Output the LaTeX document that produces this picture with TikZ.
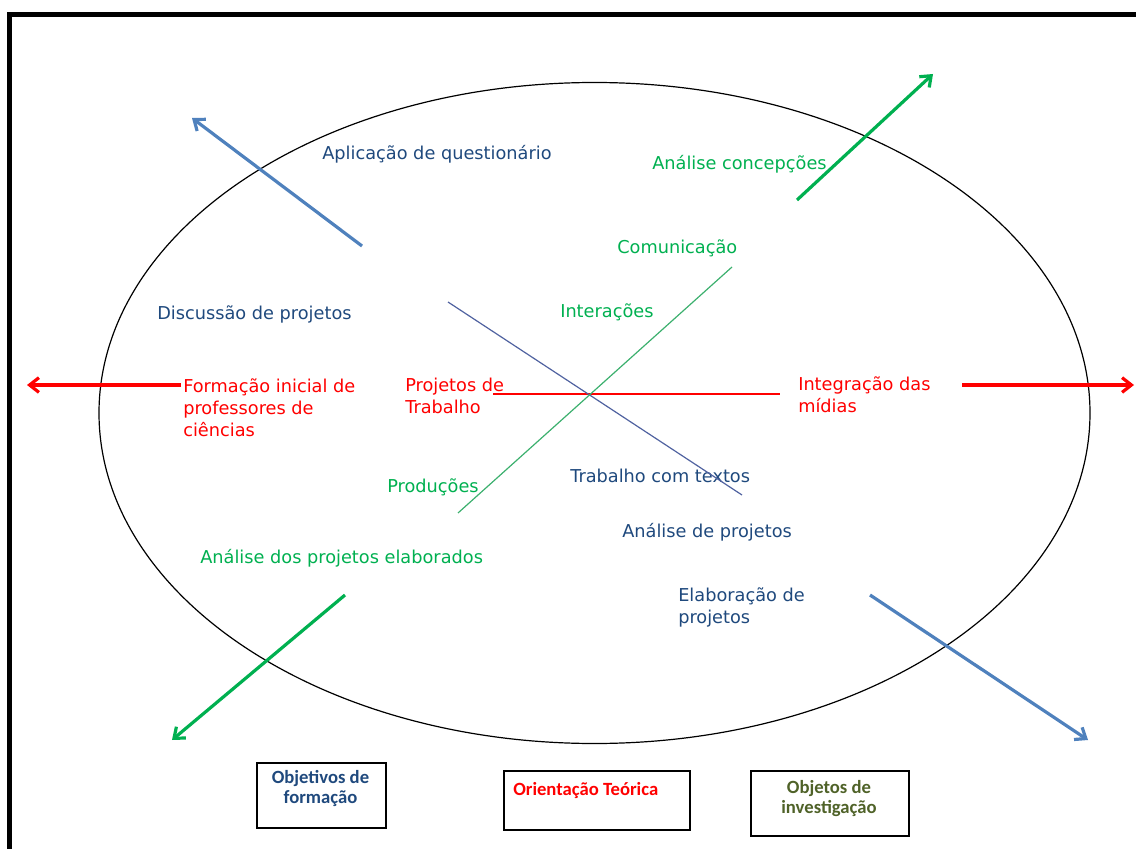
\documentclass[tikz,border=0pt]{standalone}
\usepackage{fontspec}
\setmainfont{DejaVu Sans}
\newfontfamily\boxfont{Carlito}
\usetikzlibrary{arrows.meta}

\begin{document}
\begin{tikzpicture}[x=0.75pt,y=0.75pt,yscale=-1,xscale=1,
  ink/.style={text={rgb, 255:red, 31; green, 73; blue, 125 }},
  leaf/.style={text={rgb, 255:red, 0; green, 176; blue, 80 }},
  alert/.style={text={rgb, 255:red, 255; green, 0; blue, 0 }},
  olive/.style={text={rgb, 255:red, 79; green, 98; blue, 40 }},
  txt/.style={anchor=base west,inner sep=0pt,align=left,font=\fontsize{13.3pt}{16.5pt}\selectfont},
  boxtxt/.style={inner sep=0pt,align=center,font=\boxfont\bfseries\fontsize{14pt}{15pt}\selectfont},
  lbox/.style={draw,line width=1.2pt,anchor=north west,inner sep=0pt},
  hair/.style={line width=0.9pt},
  fat/.style={line width=2.4pt,-{Straight Barb[length=7pt,width=11pt]}},
]
\useasboundingbox (0,0) rectangle (1136,849);
% outer frame
\draw [line width=3.4pt] (1150,14.5) -| (9.5,860) ;
% ellipse
\draw [line width=0.9pt] (594.5,413) ellipse (495.5 and 330.5) ;

% labels in the ellipse (multi-line ones sit on their last baseline)
\node [txt,ink] (aplic) at (322,160) {Aplicação de questionário};
\node [txt,leaf] (conc) at (652,170) {Análise concepções};
\node [txt,leaf] (comun) at (617,253) {Comunicação};
\node [txt,ink] (discus) at (157,319) {Discussão de projetos};
\node [txt,leaf] (inter) at (560,317) {Interações};
\node [txt,alert] (form) at (183,436) {Formação inicial de\\professores de\\ciências};
\node [txt,alert] (proj) at (405,413) {Projetos de\\Trabalho};
\node [txt,alert] (integ) at (798,412) {Integração das\\mídias};
\node [txt,leaf] (prod) at (387,492) {Produções};
\node [txt,ink] (textos) at (570,482) {Trabalho com textos};
\node [txt,ink] (anproj) at (622,537) {Análise de projetos};
\node [txt,leaf] (anelab) at (200,563) {Análise dos projetos elaborados};
\node [txt,ink] (elab) at (678,623) {Elaboração de\\projetos};

% crossing lines
\coordinate (hl) at (493,394);
\coordinate (hr) at (780,394);
\coordinate (dl) at (448,302);
\coordinate (dr) at (742,495);
\coordinate (ul) at (458,513);
\coordinate (ur) at (732,267);
\draw [hair,color={rgb, 255:red, 255; green, 0; blue, 0 }] (hl) -- (hr) ;
\draw [hair,color={rgb, 255:red, 80; green, 98; blue, 160 }] (dl) -- (dr) ;
\draw [hair,color={rgb, 255:red, 60; green, 176; blue, 110 }] (ul) -- (ur) ;

% big arrows
\coordinate (bul0) at (362,246);
\coordinate (bul1) at (192,118);
\coordinate (gur0) at (797,200);
\coordinate (gur1) at (933,74);
\coordinate (gll0) at (345,595);
\coordinate (gll1) at (172,740);
\coordinate (blr0) at (870,595);
\coordinate (blr1) at (1088,740);
\coordinate (rl0) at (181,385);
\coordinate (rl1) at (27,385);
\coordinate (rr0) at (962,385);
\coordinate (rr1) at (1134,385);
\draw [fat,color={rgb, 255:red, 79; green, 129; blue, 189 }] (bul0) -- (bul1) ;
\draw [fat,color={rgb, 255:red, 0; green, 176; blue, 80 }] (gur0) -- (gur1) ;
\draw [fat,color={rgb, 255:red, 0; green, 176; blue, 80 }] (gll0) -- (gll1) ;
\draw [fat,color={rgb, 255:red, 79; green, 129; blue, 189 }] (blr0) -- (blr1) ;
\draw [fat,color={rgb, 255:red, 255; green, 0; blue, 0 }] (rl0) -- (rl1) ;
\draw [fat,color={rgb, 255:red, 255; green, 0; blue, 0 }] (rr0) -- (rr1) ;

% boxes
\node [lbox,minimum width=96.75pt,minimum height=48.75pt] (objbox) at (256,762) {};
\node [lbox,minimum width=139.5pt,minimum height=44.25pt] (oribox) at (503,770) {};
\node [lbox,minimum width=118.5pt,minimum height=48.75pt] (invbox) at (750,770) {};
\node [boxtxt,ink,anchor=base] (objtxt) at (320.5,803) {Objetivos de\\formação};
\node [boxtxt,alert,anchor=base west] (oritxt) at (513,795) {Orientação Teórica};
\node [boxtxt,olive,anchor=base] (invtxt) at (829,813) {Objetos de\\investigação};
\end{tikzpicture}
\end{document}
